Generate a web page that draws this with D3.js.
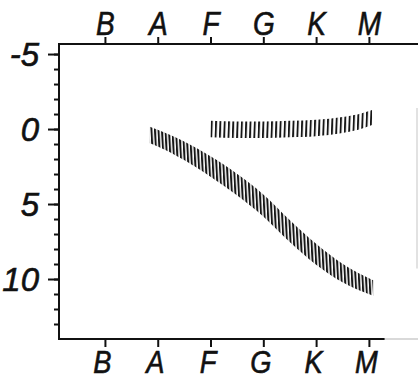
<!DOCTYPE html>
<html><head><meta charset="utf-8">
<script src="https://cdn.jsdelivr.net/npm/d3@7"></script>
<style>
html,body{margin:0;padding:0;background:#fff;}
svg{display:block;}
text{font-family:"Liberation Sans",Arial,sans-serif;font-style:italic;fill:#111;stroke:#111;stroke-width:0.6px;}
</style></head>
<body>
<svg id="chart" width="418" height="381"></svg>
<script>
// Spectral classes (top and bottom axis)
const spectralClasses = ["B", "A", "F", "G", "K", "M"];
const classIndex = [0, 1, 2, 3, 4, 5];
// Absolute magnitude ticks (inverted axis)
const magTicks = [-5, 0, 5, 10];
const magMinorTicks = d3.range(-5, 14, 1);

// Main sequence band: spectral position, centre magnitude, half thickness (mag)
const msSpec = [0.85, 1.0, 1.5, 2.0, 2.5, 3.0, 3.5, 4.0, 4.5, 5.08];
const msMag  = [0.4, 0.6, 1.45, 2.5, 3.7, 5.1, 6.8, 8.35, 9.6, 10.6];
const msHalf = [0.55, 0.56, 0.62, 0.68, 0.72, 0.74, 0.74, 0.7, 0.62, 0.52];

// Giant branch band
const giantSpec = [2.0, 2.5, 3.0, 3.5, 4.0, 4.5, 4.8, 5.06];
const giantMag  = [0.0, 0.05, 0.05, 0.0, -0.07, -0.27, -0.47, -0.77];
const giantHalf = [0.55, 0.55, 0.55, 0.55, 0.55, 0.54, 0.52, 0.5];

const svg = d3.select("#chart");
const x = d3.scaleLinear().domain([-0.87, 5.93]).range([59, 418]);
const y = d3.scaleLinear().domain([-5.67, 14]).range([44, 339]);

// hatch patterns
const defs = svg.append("defs");
function hatch(id, spacing, w, angle) {
  const p = defs.append("pattern").attr("id", id)
    .attr("patternUnits", "userSpaceOnUse")
    .attr("width", spacing).attr("height", 20)
    .attr("patternTransform", `rotate(${angle})`);
  p.append("rect").attr("x", 0).attr("y", 0).attr("width", w).attr("height", 20).attr("fill", "#161616");
}
hatch("hMS", 3.5, 2.0, -3);
hatch("hGiant", 4.3, 1.9, 2);

function band(spec, mag, half, fill) {
  const pts = spec.map((s, i) => ({s, m: mag[i], h: half[i]}));
  const area = d3.area()
    .x(d => x(d.s))
    .y0(d => y(d.m - d.h))
    .y1(d => y(d.m + d.h))
    .curve(d3.curveMonotoneX);
  svg.append("path").datum(pts).attr("d", area).attr("fill", fill);
}
band(msSpec, msMag, msHalf, "url(#hMS)");
band(giantSpec, giantMag, giantHalf, "url(#hGiant)");

// frame lines
const frame = svg.append("g").attr("stroke", "#111").attr("stroke-width", 2).attr("fill", "none");
frame.append("line").attr("x1", x.range()[0]).attr("x2", x.range()[1]).attr("y1", y.range()[0]).attr("y2", y.range()[0]);
frame.append("line").attr("x1", x.range()[0]).attr("x2", x.range()[0]).attr("y1", y.range()[0] - 1).attr("y2", y.range()[1] + 1);
frame.append("line").attr("x1", x.range()[0]).attr("x2", x(5.3)).attr("y1", y.range()[1]).attr("y2", y.range()[1]);
svg.append("line").attr("x1", x(5.3)).attr("x2", x.range()[1]).attr("y1", y.range()[1]).attr("y2", y.range()[1])
  .attr("stroke", "#ccc").attr("stroke-width", 1.5);
// faint page edge
svg.append("line").attr("x1", 417).attr("x2", 417).attr("y1", y(-1.4)).attr("y2", y(9.3))
  .attr("stroke", "#d8d8d8").attr("stroke-width", 1.5);

function styleAxis(g) {
  g.select(".domain").remove();
  g.selectAll(".tick line").attr("stroke", "#111").attr("stroke-width", 2);
}

// minor y ticks
svg.append("g").attr("transform", `translate(${x.range()[0]},0)`)
  .call(d3.axisLeft(y).tickValues(magMinorTicks).tickSize(5).tickFormat(""))
  .call(styleAxis);
// major y ticks + labels
svg.append("g").attr("transform", `translate(${x.range()[0]},0)`)
  .call(d3.axisLeft(y).tickValues(magTicks).tickSize(11).tickPadding(9).tickFormat(d => d < 0 ? "-" + Math.abs(d) : String(d)))
  .call(styleAxis)
  .call(g => g.selectAll(".tick text").attr("font-size", 33).attr("font-family", null).attr("dy", "0.36em"));

// top axis
svg.append("g").attr("transform", `translate(0,${y.range()[0]})`)
  .call(d3.axisTop(x).tickValues(classIndex).tickSize(7).tickPadding(2).tickFormat(i => spectralClasses[i]))
  .call(styleAxis)
  .call(g => g.selectAll(".tick text").attr("font-size", 33).attr("font-family", null)
    .attr("transform", "scale(0.85,1)"));

// bottom axis
svg.append("g").attr("transform", `translate(0,${y.range()[1]})`)
  .call(d3.axisBottom(x).tickValues(classIndex).tickSize(8).tickPadding(4).tickFormat(i => spectralClasses[i]))
  .call(styleAxis)
  .call(g => g.selectAll(".tick text").attr("font-size", 31).attr("font-family", null)
    .attr("transform", "translate(-3,0) scale(0.88,1)"));
</script>
</body></html>
